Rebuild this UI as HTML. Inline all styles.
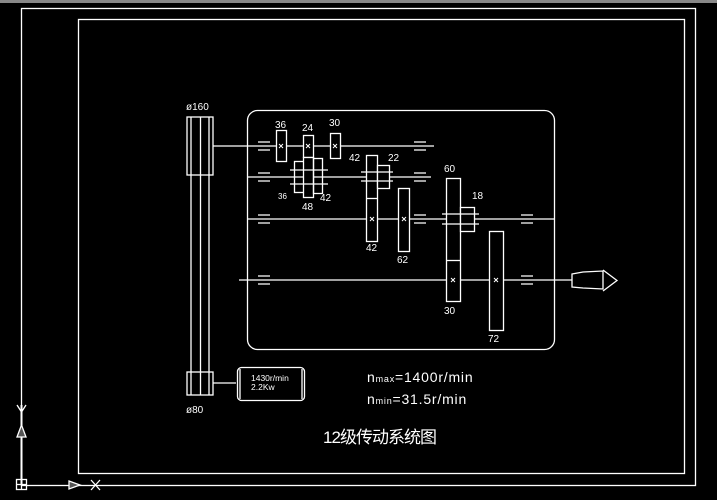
<!DOCTYPE html>
<html><head><meta charset="utf-8"><style>
html,body{margin:0;padding:0;background:#000;width:717px;height:500px;overflow:hidden}
svg{display:block}
text{font-family:"Liberation Sans","Noto Sans CJK SC",sans-serif;fill:#fff}
</style></head><body>
<svg width="717" height="500" viewBox="0 0 717 500" xmlns="http://www.w3.org/2000/svg">
<rect x="0" y="0" width="717" height="3" fill="#888"/>
<g stroke="#fff" stroke-width="1.3" fill="none">
<rect x="21.5" y="8.5" width="674" height="477"/>
<rect x="78.5" y="19.5" width="606" height="454"/>
<line x1="21.5" y1="405" x2="21.5" y2="485" stroke-width="2"/>
<polygon points="17,437 21.5,425 26,437" fill="#555"/>
<path d="M17,405 L21.5,412 L26,405 M21.5,412 L21.5,418"/>
<rect x="16.5" y="479.5" width="10" height="10"/>
<line x1="21.5" y1="479.5" x2="21.5" y2="489.5"/><line x1="16.5" y1="484.5" x2="26.5" y2="484.5"/>
<polygon points="69,481 80,485 69,489" fill="#555"/>
<path d="M91,480 L100,490 M100,480 L91,490"/>
<rect x="187" y="117" width="26" height="58"/>
<rect x="187" y="372" width="26" height="23"/>
<line x1="191" y1="117" x2="191" y2="395"/>
<line x1="200.5" y1="117" x2="200.5" y2="395"/>
<line x1="209" y1="117" x2="209" y2="395"/>
<rect x="247.5" y="110.5" width="307" height="239" rx="10"/>
<line x1="213" y1="146" x2="434" y2="146"/>
<line x1="247" y1="177" x2="431" y2="177"/>
<line x1="247" y1="219" x2="554" y2="219"/>
<line x1="239" y1="280" x2="572" y2="280"/>
<path d="M258,142h12M258,150h12M414,142h12M414,150h12
M258,173h12M258,181h12M414,173h12M414,181h12
M258,215h12M258,223h12M414,215h12M414,223h12M521,215h12M521,223h12
M258,276h12M258,284h12M521,276h12M521,284h12"/>
<rect x="276.5" y="130.5" width="10" height="31" fill="#000"/>
<rect x="303.5" y="135.5" width="10" height="22" fill="#000"/>
<rect x="330.5" y="133.5" width="10" height="25" fill="#000"/>
<rect x="294.5" y="161.5" width="10" height="31"/>
<rect x="303.5" y="157.5" width="10" height="40" fill="#000"/>
<rect x="313.5" y="158.5" width="9" height="35"/>
<line x1="290" y1="170" x2="328" y2="170"/><line x1="290" y1="184" x2="328" y2="184"/>
<rect x="366.5" y="155.5" width="11" height="86" fill="#000"/>
<line x1="366.5" y1="198.5" x2="377.5" y2="198.5"/>
<rect x="377.5" y="165.5" width="12" height="23" fill="#000"/>
<line x1="361" y1="172" x2="393" y2="172"/><line x1="361" y1="181" x2="393" y2="181"/>
<rect x="398.5" y="188.5" width="11" height="63" fill="#000"/>
<rect x="446.5" y="178.5" width="14" height="123" fill="#000"/>
<line x1="446.5" y1="260.5" x2="460.5" y2="260.5"/>
<rect x="460.5" y="207.5" width="14" height="24" fill="#000"/>
<line x1="442" y1="214" x2="479" y2="214"/><line x1="442" y1="224" x2="479" y2="224"/>
<rect x="489.5" y="231.5" width="14" height="99" fill="#000"/>
<path d="M279,144l4,4M283,144l-4,4M306,144l4,4M310,144l-4,4M333,144l4,4M337,144l-4,4
M370,217l4,4M374,217l-4,4M402,217l4,4M406,217l-4,4
M451,278l4,4M455,278l-4,4M494,278l4,4M498,278l-4,4" stroke-width="1"/>
<path d="M572,274 L583,272 L603,271 L603,289 L583,288 L572,287 Z"/>
<path d="M603,270 L617,280.5 L603,291"/>
<line x1="213" y1="383" x2="236" y2="383"/>
<rect x="237.5" y="367.5" width="67" height="33" rx="4"/>
<line x1="240" y1="369" x2="240" y2="399"/><line x1="302" y1="369" x2="302" y2="399"/>
</g>
<g font-size="10">
<text x="186" y="110">ø160</text>
<text x="186" y="413">ø80</text>
<text x="275" y="128">36</text>
<text x="302" y="131">24</text>
<text x="329" y="126">30</text>
<text x="278" y="199" font-size="8">36</text>
<text x="302" y="210">48</text>
<text x="320" y="201">42</text>
<text x="349" y="161">42</text>
<text x="388" y="161">22</text>
<text x="366" y="251">42</text>
<text x="397" y="263">62</text>
<text x="444" y="172">60</text>
<text x="472" y="199">18</text>
<text x="444" y="314">30</text>
<text x="488" y="342">72</text>
<text x="251" y="381" font-size="8.5">1430r/min</text>
<text x="251" y="390" font-size="8.5">2.2Kw</text>
</g>
<text x="367" y="382" font-size="14" letter-spacing="0.8">n<tspan font-size="9">max</tspan>=1400r/min</text>
<text x="367" y="404" font-size="14" letter-spacing="0.8">n<tspan font-size="9">min</tspan>=31.5r/min</text>
<text x="323" y="443" font-size="17" textLength="114">12级传动系统图</text>
</svg>
</body></html>
